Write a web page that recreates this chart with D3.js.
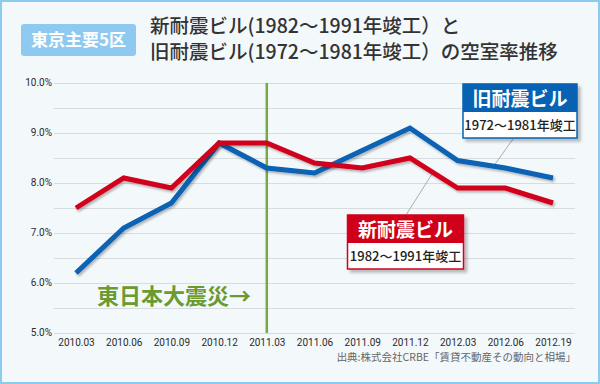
<!DOCTYPE html>
<html>
<head>
<meta charset="utf-8">
<script src="https://cdn.jsdelivr.net/npm/d3@7"></script>
<style>
  html, body { margin: 0; padding: 0; background: #fff; }
  svg { display: block; }
  text { font-family: "Noto Sans CJK JP", "Noto Sans", sans-serif; }
  .num text, .num { font-family: Roboto, "Liberation Sans", sans-serif; }
</style>
</head>
<body>
<script>

// DATA
// --------------------------------------------------------------------------

var months = ['2010.03', '2010.06', '2010.09', '2010.12', '2011.03', '2011.06',
  '2011.09', '2011.12', '2012.03', '2012.06', '2012.19'];

// 旧耐震ビル (1972〜1981年竣工)
var oldBuildings = [6.2, 7.1, 7.6, 8.8, 8.3, 8.2, 8.65, 9.1, 8.45, 8.3, 8.1];

// 新耐震ビル (1982〜1991年竣工)
var newBuildings = [7.5, 8.1, 7.9, 8.8, 8.8, 8.4, 8.3, 8.5, 7.9, 7.9, 7.6];

var yTicks = [5, 6, 7, 8, 9, 10];
var gridValues = d3.range(5, 10.01, 0.5);

var quakeMonth = '2011.03';


// LAYOUT
// --------------------------------------------------------------------------

var W = 600, H = 384;
var plotLeft = 54, plotRight = 575, plotTop = 83, plotBottom = 333;

var svg = d3.select('body').append('svg')
  .attr('width', W).attr('height', H);

var defs = svg.append('defs');

// Soft shadow under the lines.
defs.append('filter').attr('id', 'lineShadow')
  .attr('x', '-10%').attr('y', '-10%').attr('width', '120%').attr('height', '130%')
  .append('feDropShadow')
  .attr('dx', 1.5).attr('dy', 2).attr('stdDeviation', 1.2)
  .attr('flood-color', '#000').attr('flood-opacity', 0.28);

// Shadow under the legend boxes.
defs.append('filter').attr('id', 'boxShadow')
  .attr('x', '-10%').attr('y', '-10%').attr('width', '130%').attr('height', '140%')
  .append('feDropShadow')
  .attr('dx', 3).attr('dy', 3).attr('stdDeviation', 1.5)
  .attr('flood-color', '#000').attr('flood-opacity', 0.25);

// Background and frame.
svg.append('rect')
  .attr('x', 1).attr('y', 1).attr('width', W - 2).attr('height', H - 2)
  .attr('fill', '#f3f8fb').attr('stroke', '#8ccbf0').attr('stroke-width', 2);


// SCALES
// --------------------------------------------------------------------------

var x = d3.scalePoint().domain(months).range([76, 553]);
var y = d3.scaleLinear().domain([5, 10]).range([plotBottom, plotTop]);


// TITLE
// --------------------------------------------------------------------------

svg.append('rect')
  .attr('x', 21).attr('y', 24).attr('width', 115).attr('height', 32)
  .attr('rx', 3).attr('fill', '#8ecaf0');

svg.append('text')
  .attr('x', 78.5).attr('y', 40).attr('dy', '0.36em')
  .attr('text-anchor', 'middle')
  .attr('fill', '#fff').attr('font-size', 17).attr('font-weight', 700)
  .text('東京主要5区');

svg.append('text')
  .attr('x', 150).attr('y', 26).attr('dy', '0.36em')
  .attr('fill', '#333').attr('font-size', 19.5).attr('font-weight', 500)
  .text('新耐震ビル(1982〜1991年竣工）と');

svg.append('text')
  .attr('x', 150).attr('y', 52).attr('dy', '0.36em')
  .attr('fill', '#333').attr('font-size', 19.5).attr('font-weight', 500)
  .text('旧耐震ビル(1972〜1981年竣工）の空室率推移');


// GRID AND AXES
// --------------------------------------------------------------------------

svg.append('g')
  .attr('transform', 'translate(' + plotLeft + ',0)')
  .call(d3.axisLeft(y).tickValues(gridValues)
    .tickSize(-(plotRight - plotLeft)).tickFormat(''))
  .call(function(g) {
    g.select('.domain').remove();
    g.selectAll('line').attr('stroke', '#d9dcde').attr('stroke-width', 1);
  });

svg.append('g')
  .attr('class', 'num')
  .attr('transform', 'translate(' + plotLeft + ',0)')
  .call(d3.axisLeft(y).tickValues(yTicks).tickSize(0).tickPadding(2)
    .tickFormat(function(d) { return d.toFixed(1) + '%'; }))
  .call(function(g) {
    g.select('.domain').remove();
    g.selectAll('text')
      .attr('fill', '#2b2b2b').attr('font-size', 10)
      .attr('dy', '0.2em');
  });

svg.append('g')
  .attr('class', 'num')
  .attr('transform', 'translate(0,' + plotBottom + ')')
  .call(d3.axisBottom(x).tickSize(0).tickPadding(6))
  .call(function(g) {
    g.select('.domain').remove();
    g.selectAll('text').attr('fill', '#2b2b2b').attr('font-size', 10);
  });


// EARTHQUAKE MARKER
// --------------------------------------------------------------------------

svg.append('line')
  .attr('x1', x(quakeMonth)).attr('x2', x(quakeMonth))
  .attr('y1', plotTop).attr('y2', plotBottom)
  .attr('stroke', '#78a844').attr('stroke-width', 2.5);

svg.append('text')
  .attr('x', 97).attr('y', 296).attr('dy', '0.36em')
  .attr('fill', '#6a9a30').attr('font-size', 22).attr('font-weight', 700)
  .text('東日本大震災→');


// LEADERS
// --------------------------------------------------------------------------

svg.append('line')
  .attr('x1', 513).attr('y1', 139).attr('x2', 493).attr('y2', 167)
  .attr('stroke', '#999').attr('stroke-width', 0.8);

svg.append('line')
  .attr('x1', 432).attr('y1', 174).attr('x2', 406).attr('y2', 215)
  .attr('stroke', '#999').attr('stroke-width', 0.8);


// LINES
// --------------------------------------------------------------------------

var line = d3.line()
  .x(function(d, i) { return x(months[i]); })
  .y(function(d) { return y(d); });

svg.append('path')
  .datum(oldBuildings)
  .attr('d', line)
  .attr('fill', 'none').attr('stroke', '#0762b4').attr('stroke-width', 5)
  .attr('filter', 'url(#lineShadow)');

svg.append('path')
  .datum(newBuildings)
  .attr('d', line)
  .attr('fill', 'none').attr('stroke', '#d1001a').attr('stroke-width', 5)
  .attr('filter', 'url(#lineShadow)');


// LEGEND BOXES
// --------------------------------------------------------------------------

function legendBox(bx, by, bw, color, title, years) {
  var g = svg.append('g').attr('transform', 'translate(' + bx + ',' + by + ')');
  g.append('rect')
    .attr('x', 0).attr('y', 0).attr('width', bw).attr('height', 54)
    .attr('fill', '#fff').attr('stroke', color).attr('stroke-width', 1.5)
    .attr('filter', 'url(#boxShadow)');
  g.append('rect')
    .attr('x', 0).attr('y', 0).attr('width', bw).attr('height', 28)
    .attr('fill', color);
  g.append('text')
    .attr('x', bw / 2).attr('y', 15.5).attr('dy', '0.36em')
    .attr('text-anchor', 'middle')
    .attr('fill', '#fff').attr('font-size', 19).attr('font-weight', 700)
    .text(title);
  g.append('text')
    .attr('x', bw / 2).attr('y', 41).attr('dy', '0.36em')
    .attr('text-anchor', 'middle')
    .attr('fill', '#222').attr('font-size', 13).attr('font-weight', 500)
    .text(years);
}

legendBox(463, 84, 114, '#0762b4', '旧耐震ビル', '1972〜1981年竣工');
legendBox(347.5, 215, 116, '#d1001a', '新耐震ビル', '1982〜1991年竣工');


// SOURCE
// --------------------------------------------------------------------------

svg.append('text')
  .attr('x', 576).attr('y', 357).attr('dy', '0.36em')
  .attr('text-anchor', 'end')
  .attr('fill', '#666').attr('font-size', 10.5)
  .text('出典:株式会社CRBE「賃貸不動産その動向と相場」');

</script>
</body>
</html>
